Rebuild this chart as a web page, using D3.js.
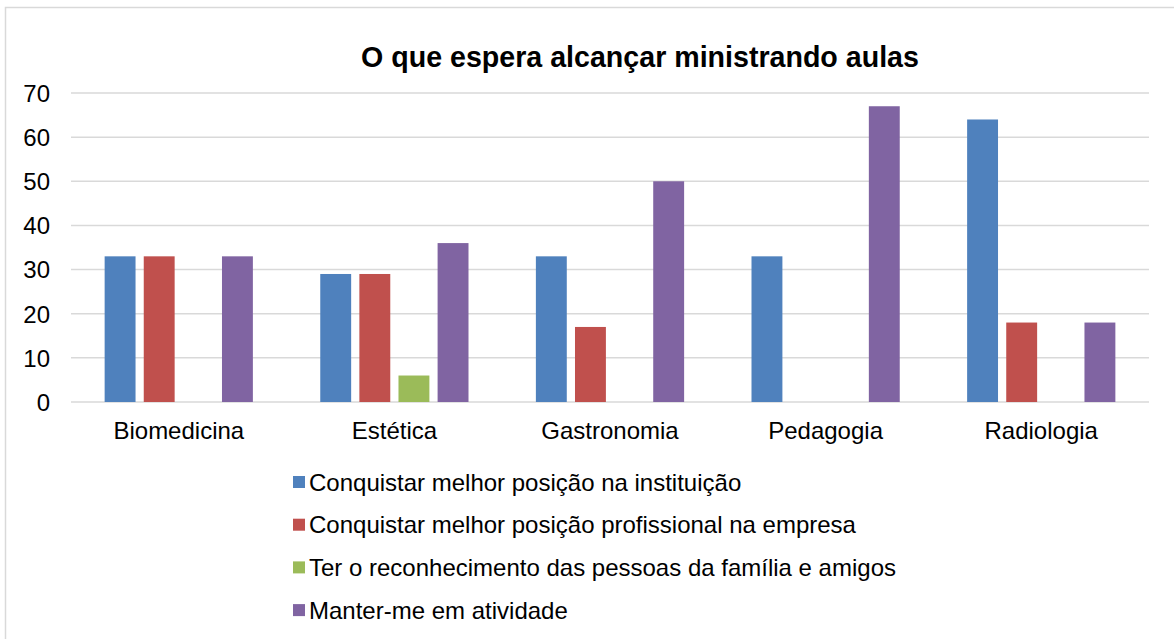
<!DOCTYPE html>
<html>
<head>
<meta charset="utf-8">
<script src="https://cdn.jsdelivr.net/npm/d3@7"></script>
<style>
  body { margin: 0; background: #fff; }
  svg { font-family: "Liberation Sans", Arial, sans-serif; }
</style>
</head>
<body>
<div id="chart"></div>
<script>
const categories = ["Biomedicina", "Estética", "Gastronomia", "Pedagogia", "Radiologia"];
const seriesNames = [
  "Conquistar melhor posição na instituição",
  "Conquistar melhor posição profissional na empresa",
  "Ter o reconhecimento das pessoas da família e amigos",
  "Manter-me em atividade"
];
const instituicao = [33, 29, 33, 33, 64];
const empresa = [33, 29, 17, 0, 18];
const reconhecimento = [0, 6, 0, 0, 0];
const atividade = [33, 36, 50, 67, 18];
const colors = ["#4f81bd", "#c0504d", "#9bbb59", "#8064a2"];
const yTicks = [0, 10, 20, 30, 40, 50, 60, 70];

const seriesValues = [instituicao, empresa, reconhecimento, atividade];

const width = 1174, height = 639;
const margin = { top: 93, right: 25, bottom: 237, left: 71 };
const w = width - margin.left - margin.right;
const h = height - margin.top - margin.bottom;
const font = "Liberation Sans, Arial, sans-serif";

const svg = d3.select("#chart").append("svg")
  .attr("width", width)
  .attr("height", height);

// chart border (left and top visible)
svg.append("rect")
  .attr("x", 5.5).attr("y", 7.5)
  .attr("width", width + 10).attr("height", height + 10)
  .attr("fill", "none")
  .attr("stroke", "#d9d9d9")
  .attr("stroke-width", 1.5);

svg.append("text")
  .attr("x", 640)
  .attr("y", 67)
  .attr("text-anchor", "middle")
  .style("font-size", "28.6px")
  .style("font-weight", "bold")
  .text("O que espera alcançar ministrando aulas");

const g = svg.append("g")
  .attr("transform", "translate(" + margin.left + "," + margin.top + ")");

const x0 = d3.scaleBand().domain(categories).range([0, w]).paddingInner(0.3125).paddingOuter(0.156);
const x1 = d3.scaleBand().domain(d3.range(seriesNames.length)).range([0, x0.bandwidth()]).paddingInner(0.21);
const y = d3.scaleLinear().domain([0, 70]).range([h, 0]);

// gridlines
g.append("g")
  .selectAll("line")
  .data(yTicks)
  .join("line")
  .attr("x1", 0).attr("x2", w)
  .attr("y1", d => y(d)).attr("y2", d => y(d))
  .attr("stroke", "#d9d9d9")
  .attr("stroke-width", 1.5);

// y axis labels
const yAxis = d3.axisLeft(y).tickValues(yTicks).tickSize(0).tickPadding(21);
g.append("g")
  .call(yAxis)
  .call(s => s.select(".domain").remove())
  .selectAll("text")
  .style("font-size", "24px")
  .attr("fill", "#000")
  .attr("dy", "0.35em")
  .attr("font-family", font);

// bars
const groups = g.append("g").selectAll("g")
  .data(categories)
  .join("g")
  .attr("transform", d => "translate(" + x0(d) + ",0)");

groups.selectAll("rect")
  .data((d, i) => seriesValues.map((vals, s) => ({ s: s, v: vals[i] })))
  .join("rect")
  .filter(d => d.v > 0)
  .attr("x", d => x1(d.s))
  .attr("width", x1.bandwidth())
  .attr("y", d => y(d.v))
  .attr("height", d => y(0) - y(d.v))
  .attr("fill", d => colors[d.s]);

// x axis labels
const xBand = d3.scaleBand().domain(categories).range([0, w]);
const xAxis = d3.axisBottom(xBand).tickSize(0).tickPadding(20);
g.append("g")
  .attr("transform", "translate(0," + h + ")")
  .call(xAxis)
  .call(s => s.select(".domain").remove())
  .selectAll("text")
  .style("font-size", "24px")
  .attr("fill", "#000")
  .attr("font-family", font);

// legend
const legend = svg.append("g").attr("transform", "translate(293,482)");
const items = legend.selectAll("g")
  .data(seriesNames)
  .join("g")
  .attr("transform", (d, i) => "translate(0," + i * 42.7 + ")");
items.append("rect")
  .attr("x", 0).attr("y", -6)
  .attr("width", 12).attr("height", 12)
  .attr("fill", (d, i) => colors[i]);
items.append("text")
  .attr("x", 16)
  .attr("y", 0)
  .attr("dy", "0.36em")
  .style("font-size", "24px")
  .text(d => d);
</script>
</body>
</html>
